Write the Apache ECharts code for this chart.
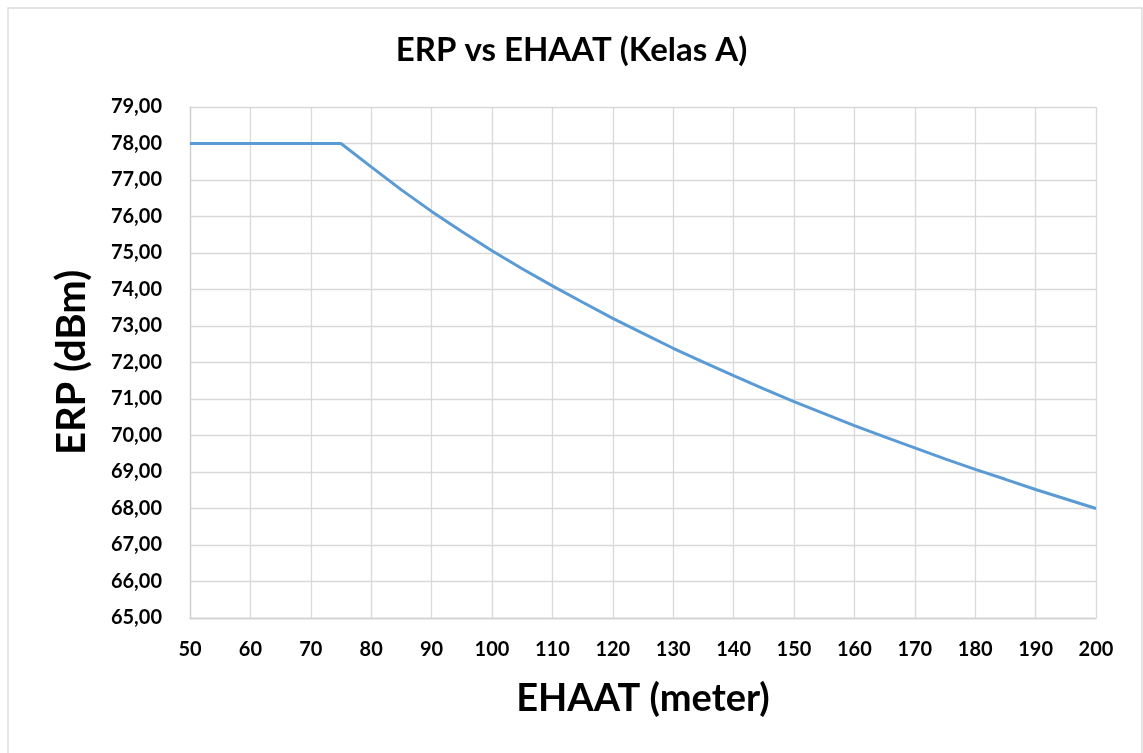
<!DOCTYPE html>
<html lang="id" style="height: 100%">
<head>
    <meta charset="UTF-8" />
    <title>ERP vs EHAAT</title>
    <style>
        html, body { margin: 0; padding: 0; background: #fff; }
        #container { width: 1143px; height: 753px; }
    </style>
</head>
<body>
    <div id="container"></div>
    <script src="https://cdn.jsdelivr.net/npm/echarts@6/dist/echarts.min.js"></script>
    <script type="text/javascript">
        // EHAAT (meter) dan ERP (dBm)
        var ehaat = [50, 55, 60, 65, 70, 75, 80, 85, 90, 95, 100, 105, 110, 115, 120, 125,
            130, 135, 140, 145, 150, 155, 160, 165, 170, 175, 180, 185, 190, 195, 200];
        var erp = [78.00, 78.00, 78.00, 78.00, 78.00, 78.00, 77.36, 76.73, 76.14, 75.59, 75.06,
            74.57, 74.10, 73.65, 73.21, 72.80, 72.39, 72.01, 71.64, 71.28, 70.93, 70.60,
            70.27, 69.96, 69.66, 69.36, 69.07, 68.80, 68.52, 68.26, 68.00];

        var data = [];
        for (var i = 0; i < ehaat.length; i++) {
            data.push([ehaat[i], erp[i]]);
        }

        var font = 'Lato, "Open Sans", sans-serif';
        var myChart = echarts.init(document.getElementById('container'));
        var option = {
            animation: false,
            backgroundColor: '#fff',
            title: {
                text: 'ERP vs EHAAT (Kelas A)',
                left: 'center',
                top: 29,
                textStyle: { fontFamily: font, fontSize: 33, fontWeight: 'bold', color: '#000' }
            },
            graphic: [{
                type: 'rect',
                shape: { x: 8, y: 8, width: 1134, height: 780 },
                style: { fill: 'none', stroke: '#d9d9d9', lineWidth: 1.3 },
                silent: true
            }],
            grid: { left: 190, right: 47, top: 107, bottom: 135 },
            xAxis: {
                type: 'value',
                min: 50,
                max: 200,
                interval: 10,
                name: 'EHAAT (meter)',
                nameLocation: 'middle',
                nameGap: 62,
                nameTextStyle: { fontFamily: font, fontSize: 38, fontWeight: 'bold', color: '#000' },
                axisLine: { lineStyle: { color: '#d0d0d0', width: 1.3 } },
                axisTick: { show: false },
                axisLabel: { fontFamily: font, fontSize: 20, fontWeight: 'bold', color: '#000', margin: 22 },
                splitLine: { lineStyle: { color: '#d9d9d9', width: 1.3 } }
            },
            yAxis: {
                type: 'value',
                min: 65,
                max: 79,
                interval: 1,
                name: 'ERP (dBm)',
                nameLocation: 'middle',
                nameGap: 98,
                nameTextStyle: { fontFamily: font, fontSize: 40, fontWeight: 'bold', color: '#000' },
                axisLine: { show: true, lineStyle: { color: '#d0d0d0', width: 1.3 } },
                axisTick: { show: false },
                axisLabel: {
                    fontFamily: font, fontSize: 20, fontWeight: 'bold', color: '#000', margin: 28,
                    formatter: function (v) { return v.toFixed(2).replace('.', ','); }
                },
                splitLine: { lineStyle: { color: '#d9d9d9', width: 1.3 } }
            },
            series: [{
                name: 'ERP',
                type: 'line',
                data: data,
                showSymbol: false,
                lineStyle: { color: '#5b9bd5', width: 3 }
            }]
        };
        myChart.setOption(option);
    </script>
</body>
</html>
